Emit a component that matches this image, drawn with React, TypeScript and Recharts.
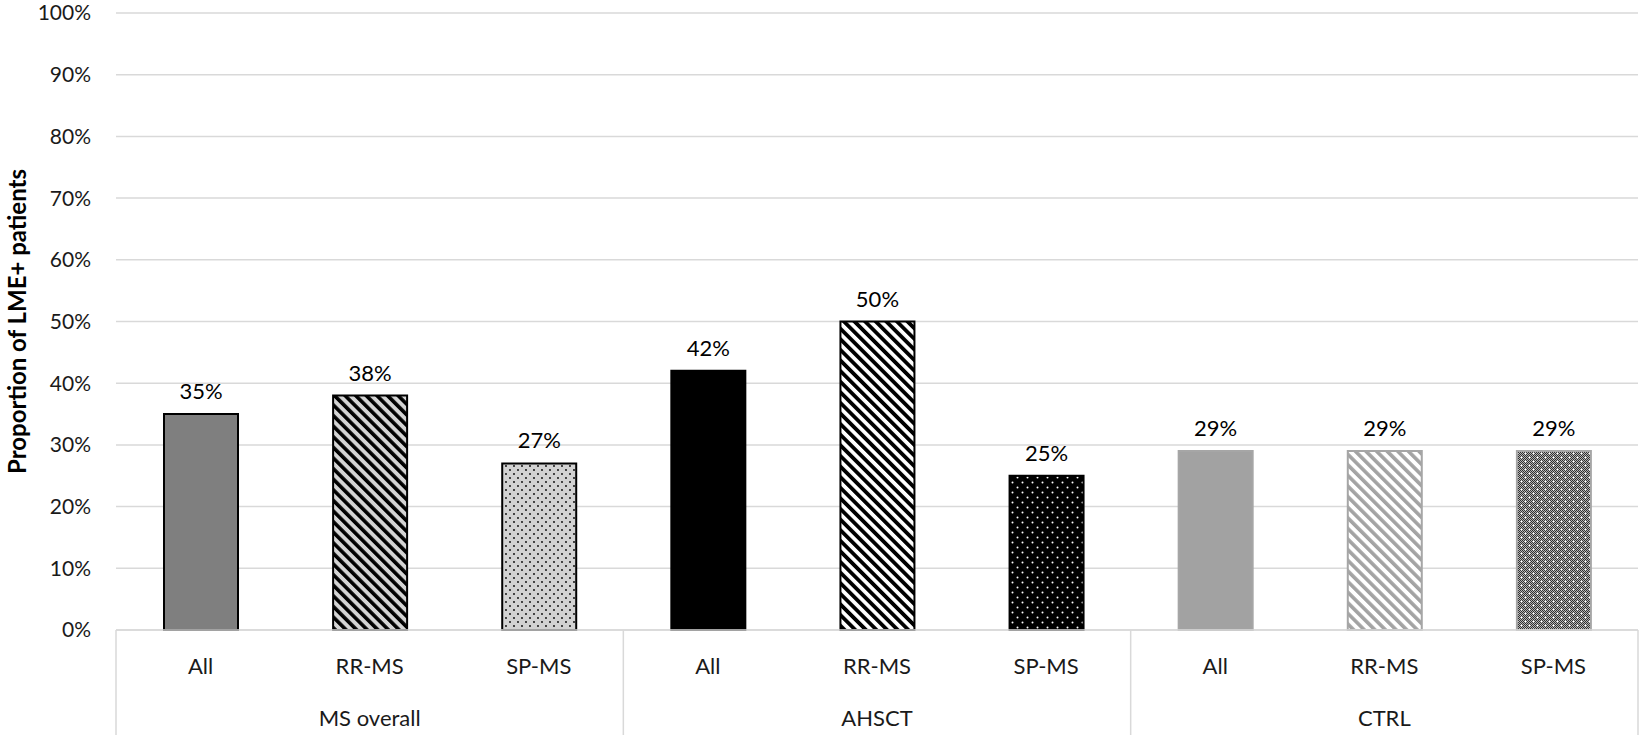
import { BarChart, Bar, XAxis, YAxis, CartesianGrid, Cell, LabelList } from "recharts";

const groups = ["MS overall", "AHSCT", "CTRL"];
const subgroups = ["All", "RR-MS", "SP-MS"];
const msOverall = [35, 38, 27];
const ahsct = [42, 50, 25];
const ctrl = [29, 29, 29];
const yTicks = [0, 10, 20, 30, 40, 50, 60, 70, 80, 90, 100];

const groupValues = [msOverall, ahsct, ctrl];
const data = groups.flatMap((g, gi) =>
  subgroups.map((s, si) => ({ group: g, sub: s, value: groupValues[gi][si] }))
);

const fills = [
  "#7f7f7f",
  "url(#stripeMs)",
  "url(#dotMs)",
  "#000000",
  "url(#stripeAh)",
  "url(#dotAh)",
  "#a2a2a2",
  "url(#stripeCt)",
  "url(#checkCt)",
];
const strokes = ["#000", "#000", "#000", "#000", "#000", "#000", "#a6a6a6", "#a6a6a6", "#a6a6a6"];

const W = 1642;
const H = 737;
const LEFT = 116;
const RIGHT = 4;
const band = (W - LEFT - RIGHT) / data.length;
const font = "Lato, 'Open Sans', sans-serif";
const sepColor = "#d9d9d9";

function CategoryTick(props: any) {
  const { x, y, payload, index } = props;
  const row = data[index];
  return (
    <g>
      <text x={x} y={y + 44} textAnchor="middle" fontSize={22} fill="#1a1a1a">
        {payload.value}
      </text>
      {index % 3 === 1 && (
        <text x={x} y={y + 96} textAnchor="middle" fontSize={22} fill="#1a1a1a">
          {row.group}
        </text>
      )}
      {index % 3 === 0 && (
        <line x1={x - band / 2} x2={x - band / 2} y1={y} y2={y + 105} stroke={sepColor} strokeWidth={1.5} />
      )}
      {index === data.length - 1 && (
        <line x1={x + band / 2} x2={x + band / 2} y1={y} y2={y + 105} stroke={sepColor} strokeWidth={1.5} />
      )}
    </g>
  );
}

const checker: { x: number; y: number; dark: boolean }[] = [];
for (let i = 0; i < 8; i++) {
  for (let j = 0; j < 8; j++) checker.push({ x: i, y: j, dark: (i + j) % 2 === 0 });
}

export default function App() {
  return (
    <div style={{ position: "absolute", left: 0, top: 0, width: W, height: H, background: "#fff", fontFamily: font }}>
      <BarChart width={W} height={H} data={data} margin={{ top: 13, right: RIGHT, bottom: 0, left: 0 }}>
        <defs>
          <pattern id="stripeMs" patternUnits="userSpaceOnUse" width={7.5} height={7.5} patternTransform="rotate(-45)">
            <rect width={7.5} height={7.5} fill="#d4d4d4" />
            <rect width={3.6} height={7.5} fill="#000" />
          </pattern>
          <pattern id="stripeAh" patternUnits="userSpaceOnUse" width={7.5} height={7.5} patternTransform="rotate(-45)">
            <rect width={7.5} height={7.5} fill="#fff" />
            <rect width={3.8} height={7.5} fill="#000" />
          </pattern>
          <pattern id="stripeCt" patternUnits="userSpaceOnUse" width={7.5} height={7.5} patternTransform="rotate(-45)">
            <rect width={7.5} height={7.5} fill="#fff" />
            <rect width={3.6} height={7.5} fill="#a3a3a3" />
          </pattern>
          <pattern id="dotMs" patternUnits="userSpaceOnUse" width={8} height={8}>
            <rect width={8} height={8} fill="#d2d2d2" />
            <circle cx={2} cy={2} r={0.9} fill="#000" />
            <circle cx={6} cy={6} r={0.9} fill="#000" />
          </pattern>
          <pattern id="dotAh" patternUnits="userSpaceOnUse" width={10} height={10}>
            <rect width={10} height={10} fill="#000" />
            <circle cx={2.5} cy={2.5} r={1} fill="#fff" />
            <circle cx={7.5} cy={7.5} r={1} fill="#fff" />
          </pattern>
          <pattern id="checkCt" patternUnits="userSpaceOnUse" width={8} height={8}>
            {checker.map((c, i) => (
              <rect key={i} x={c.x} y={c.y} width={1} height={1} fill={c.dark ? "#2e2e2e" : "#b4b4b4"} />
            ))}
            <circle cx={1.5} cy={1.5} r={0.9} fill="#fff" />
            <circle cx={5.5} cy={5.5} r={0.9} fill="#fff" />
          </pattern>
        </defs>
        <CartesianGrid vertical={false} stroke={sepColor} strokeWidth={1.5} />
        <XAxis
          dataKey="sub"
          interval={0}
          height={H - 630}
          tickLine={false}
          tickSize={0}
          tickMargin={0}
          axisLine={{ stroke: sepColor, strokeWidth: 1.5 }}
          tick={CategoryTick}
        />
        <YAxis
          width={LEFT}
          domain={[0, 100]}
          ticks={yTicks}
          interval={0}
          tickFormatter={(v) => `${v}%`}
          axisLine={false}
          tickLine={false}
          tickSize={0}
          tickMargin={25}
          tick={{ fontSize: 21, fill: "#1a1a1a" }}
          label={{
            value: "Proportion of LME+ patients",
            angle: -90,
            position: "insideLeft",
            offset: 17,
            style: { textAnchor: "middle", fontWeight: 700, fontSize: 24, fill: "#000" },
          }}
        />
        <Bar dataKey="value" barSize={74} isAnimationActive={false}>
          {data.map((d, i) => (
            <Cell key={d.group + d.sub} fill={fills[i]} stroke={strokes[i]} strokeWidth={2} />
          ))}
          <LabelList
            dataKey="value"
            position="top"
            offset={15}
            formatter={(v: any) => `${v}%`}
            style={{ fontSize: 22, fill: "#000" }}
          />
        </Bar>
      </BarChart>
    </div>
  );
}
